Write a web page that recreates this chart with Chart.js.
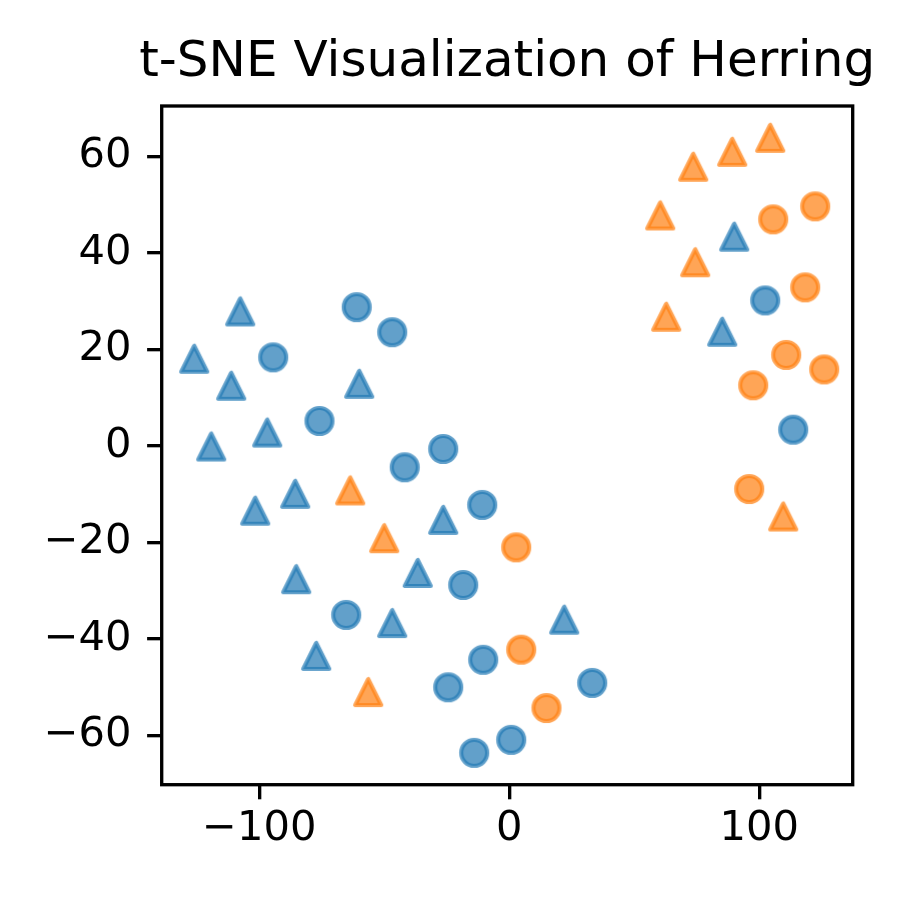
<!DOCTYPE html>
<html>
<head>
<meta charset="utf-8">
<script src="https://cdn.jsdelivr.net/npm/chart.js@4.4.1/dist/chart.umd.min.js"></script>
<style>
  html, body { margin: 0; padding: 0; background: #ffffff; }
  #wrap { width: 900px; height: 900px; }
</style>
</head>
<body>
<div id="wrap"><canvas id="c" width="900" height="900"></canvas></div>
<script>
// ---- Data ----
const titleText = "t-SNE Visualization of Herring";

const blueCircleX = [-61.0, -46.8, -94.4, -75.9, -26.4, -41.8, -10.8, -18.4, -65.2, -10.4, -24.4, 33.2, 0.8, -14.0, 102.4, 113.6];
const blueCircleY = [28.8, 23.6, 18.4, 5.2, -0.6, -4.4, -12.2, -28.8, -35.0, -44.3, -50.0, -49.1, -60.9, -63.6, 30.2, 3.4];

const blueTriangleX = [-107.6, -126.0, -111.2, -60.0, -119.2, -96.8, -101.6, -85.6, -26.4, -85.2, -36.6, -46.8, -77.2, 22.0, 90.0, 85.2];
const blueTriangleY = [27.9, 18.1, 12.5, 12.9, -0.1, 2.8, -13.4, -9.9, -15.3, -27.6, -26.3, -36.7, -43.5, -36.0, 43.4, 23.7];

const orangeCircleX = [122.4, 105.6, 118.4, 110.8, 126.0, 97.6, 96.0, 2.8, 4.8, 14.9];
const orangeCircleY = [49.7, 47.0, 32.9, 18.9, 15.9, 12.6, -8.9, -21.0, -42.2, -54.3];

const orangeTriangleX = [104.4, 89.2, 73.6, 60.4, 74.4, 62.8, -63.6, -50.0, -56.4, 109.6];
const orangeTriangleY = [63.9, 61.0, 57.9, 47.8, 38.1, 26.8, -9.2, -19.1, -51.0, -14.6];

const xTicks = [-100, 0, 100];
const yTicks = [-60, -40, -20, 0, 20, 40, 60];
const xLimits = [-139.0, 137.4];
const yLimits = [-70.2, 70.5];

// ---- Styling helpers ----
const BLUE = 'rgba(31,119,180,0.7)';
const ORANGE = 'rgba(255,127,14,0.7)';
const EDGE_W = 4.17;
const HALF = 13;

function makeMarker(shape, color) {
  const cv = document.createElement('canvas');
  cv.width = 44; cv.height = 44;
  const g = cv.getContext('2d');
  const c = 22;
  g.beginPath();
  if (shape === 'circle') {
    g.arc(c, c, HALF, 0, Math.PI * 2);
  } else {
    g.moveTo(c, c - HALF);
    g.lineTo(c - HALF, c + HALF);
    g.lineTo(c + HALF, c + HALF);
    g.closePath();
  }
  g.fillStyle = color;
  g.fill();
  g.lineJoin = 'round';
  g.lineWidth = EDGE_W;
  g.strokeStyle = color;
  g.stroke();
  return cv;
}

function pts(xs, ys) { return xs.map((x, i) => ({ x: x, y: ys[i] })); }
const fmt = v => String(v).replace('-', '\u2212');

const framePlugin = {
  id: 'frame',
  afterLayout(chart) {
    // widen the title box symmetrically (same centre over the axes) so the text is not squeezed
    const t = chart.titleBlock;
    if (t) { t.left -= 80; t.right += 80; }
  },
  afterDatasetsDraw(chart) {
    const a = chart.chartArea;
    const ctx = chart.ctx;
    ctx.save();
    ctx.strokeStyle = '#000';
    ctx.lineWidth = 3.33;
    ctx.strokeRect(a.left, a.top, a.right - a.left, a.bottom - a.top);
    ctx.restore();
  }
};

const tickFont = { family: 'DejaVu Sans', size: 41.67, lineHeight: 1.2 };

new Chart(document.getElementById('c'), {
  type: 'scatter',
  data: {
    datasets: [
      { label: 'A circle', data: pts(blueCircleX, blueCircleY), pointStyle: makeMarker('circle', BLUE), pointRadius: 15 },
      { label: 'B circle', data: pts(orangeCircleX, orangeCircleY), pointStyle: makeMarker('circle', ORANGE), pointRadius: 15 },
      { label: 'A triangle', data: pts(blueTriangleX, blueTriangleY), pointStyle: makeMarker('triangle', BLUE), pointRadius: 15 },
      { label: 'B triangle', data: pts(orangeTriangleX, orangeTriangleY), pointStyle: makeMarker('triangle', ORANGE), pointRadius: 15 }
    ]
  },
  options: {
    responsive: false,
    animation: false,
    devicePixelRatio: 1,
    layout: { padding: { left: 0, right: 47.3, top: 0, bottom: 0 } },
    plugins: {
      legend: { display: false },
      tooltip: { enabled: false },
      title: {
        display: true,
        text: titleText,
        fullSize: false,
        color: '#000',
        font: { family: 'DejaVu Sans', size: 50, weight: 'normal', lineHeight: 1.2 },
        padding: { top: 33.2, bottom: 12.8 }
      }
    },
    scales: {
      x: {
        type: 'linear',
        position: 'bottom',
        min: xLimits[0],
        max: xLimits[1],
        afterBuildTicks: s => { s.ticks = xTicks.map(v => ({ value: v })); },
        afterFit: s => { s.height = 900 - 784.7; },
        border: { display: false },
        grid: { drawOnChartArea: false, drawTicks: true, tickLength: 14.6, lineWidth: 3.33, color: '#000', tickColor: '#000' },
        ticks: { color: '#000', font: tickFont, padding: 4.7, maxRotation: 0, autoSkip: false, callback: v => fmt(v) }
      },
      y: {
        type: 'linear',
        position: 'left',
        min: yLimits[0],
        max: yLimits[1],
        afterBuildTicks: s => { s.ticks = yTicks.map(v => ({ value: v })); },
        afterFit: s => { s.width = 161.7; },
        border: { display: false },
        grid: { drawOnChartArea: false, drawTicks: true, tickLength: 14.6, lineWidth: 3.33, color: '#000', tickColor: '#000' },
        ticks: { color: '#000', font: tickFont, padding: 15.5, autoSkip: false, callback: v => fmt(v) }
      }
    }
  },
  plugins: [framePlugin]
});
</script>
</body>
</html>
